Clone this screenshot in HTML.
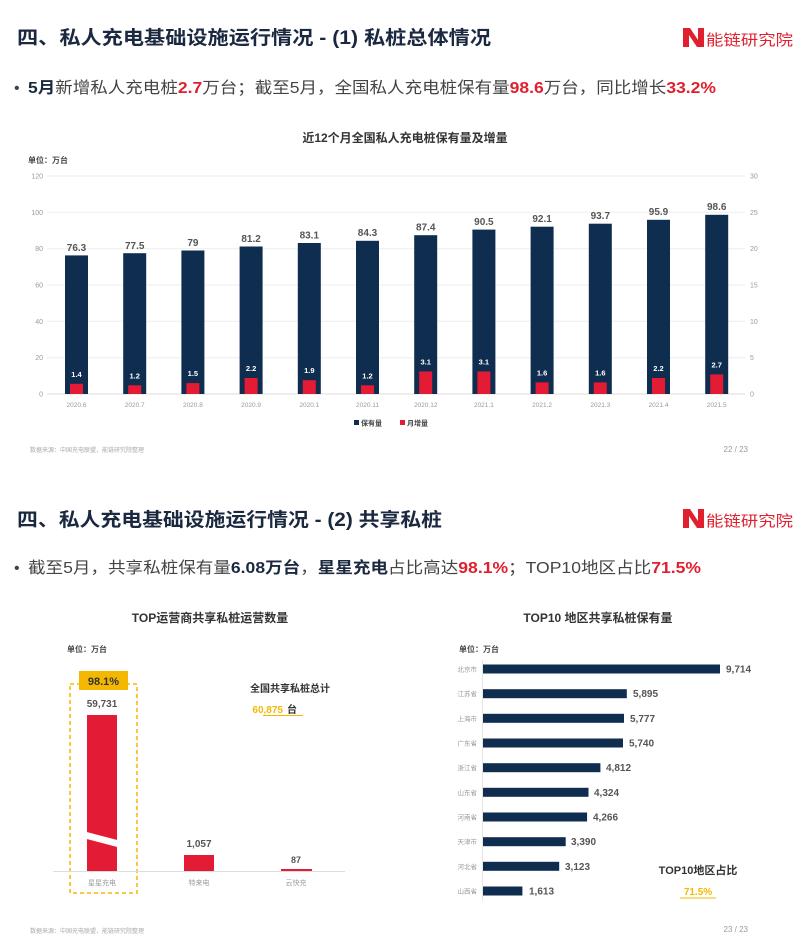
<!DOCTYPE html>
<html><head><meta charset="utf-8"><style>
html,body{margin:0;padding:0;background:#fff}
svg{display:block;font-family:"Liberation Sans","Noto Sans CJK SC",sans-serif}
</style></head><body>
<svg width="810" height="944" viewBox="0 0 810 944" xmlns="http://www.w3.org/2000/svg">
<!-- ===== Section 1 ===== -->
<text x="17" y="44" font-size="19" font-weight="bold" fill="#1b2940" textLength="474" lengthAdjust="spacingAndGlyphs">四、私人充电基础设施运行情况  - (1) 私桩总体情况</text>
<g>
<path d="M683 28 L690 28 L698 40 L698 28 L704 28 L704 47 L697 47 L689 35 L689 47 L683 47 Z" fill="#e0202e"/>
<text x="706" y="45" font-size="15" fill="#e0202e" textLength="87" lengthAdjust="spacingAndGlyphs">能链研究院</text>
</g>
<text x="14" y="93" font-size="16" fill="#444">•</text>
<text x="28" y="93" font-size="16" fill="#444" textLength="688" lengthAdjust="spacingAndGlyphs"><tspan font-weight="bold" fill="#1b2940">5月</tspan>新增私人充电桩<tspan font-weight="bold" fill="#e0202e">2.7</tspan>万台；截至5月，全国私人充电桩保有量<tspan font-weight="bold" fill="#e0202e">98.6</tspan>万台，同比增长<tspan font-weight="bold" fill="#e0202e">33.2%</tspan></text>

<text x="405" y="142" font-size="12" font-weight="bold" fill="#333" text-anchor="middle">近12个月全国私人充电桩保有量及增量</text>
<text x="28" y="163" font-size="8" font-weight="bold" fill="#444">单位：万台</text>
<!-- grid -->
<g stroke="#eeeeee" stroke-width="1">
<line x1="47" y1="176" x2="745" y2="176"/>
<line x1="47" y1="212.3" x2="745" y2="212.3"/>
<line x1="47" y1="248.7" x2="745" y2="248.7"/>
<line x1="47" y1="285" x2="745" y2="285"/>
<line x1="47" y1="321.3" x2="745" y2="321.3"/>
<line x1="47" y1="357.7" x2="745" y2="357.7"/>
</g>
<line x1="47" y1="394" x2="745" y2="394" stroke="#dddddd"/>
<g font-size="7" fill="#999" text-anchor="end">
<text x="43" y="178.5">120</text><text x="43" y="215">100</text><text x="43" y="251">80</text><text x="43" y="287.5">60</text><text x="43" y="324">40</text><text x="43" y="360">20</text><text x="43" y="396.5">0</text>
</g>
<g font-size="7" fill="#999">
<text x="750" y="178.5">30</text><text x="750" y="215">25</text><text x="750" y="251">20</text><text x="750" y="287.5">15</text><text x="750" y="324">10</text><text x="750" y="360">5</text><text x="750" y="396.5">0</text>
</g>
<!-- navy bars -->
<g fill="#0f2d4f">
<rect x="65" y="255.4" width="23" height="138.6"/>
<rect x="123.2" y="253.2" width="23" height="140.8"/>
<rect x="181.4" y="250.5" width="23" height="143.5"/>
<rect x="239.6" y="246.5" width="23" height="147.5"/>
<rect x="297.8" y="243" width="23" height="151"/>
<rect x="356" y="240.8" width="23" height="153.2"/>
<rect x="414.2" y="235.2" width="23" height="158.8"/>
<rect x="472.4" y="229.6" width="23" height="164.4"/>
<rect x="530.6" y="226.7" width="23" height="167.3"/>
<rect x="588.8" y="223.7" width="23" height="170.3"/>
<rect x="647" y="219.8" width="23" height="174.2"/>
<rect x="705.2" y="214.8" width="23" height="179.2"/>
</g>
<!-- red bars -->
<g fill="#e31b34">
<rect x="70" y="383.8" width="13" height="10.2"/>
<rect x="128.2" y="385.3" width="13" height="8.7"/>
<rect x="186.4" y="383.1" width="13" height="10.9"/>
<rect x="244.6" y="378" width="13" height="16"/>
<rect x="302.8" y="380.2" width="13" height="13.8"/>
<rect x="361" y="385.3" width="13" height="8.7"/>
<rect x="419.2" y="371.5" width="13" height="22.5"/>
<rect x="477.4" y="371.5" width="13" height="22.5"/>
<rect x="535.6" y="382.4" width="13" height="11.6"/>
<rect x="593.8" y="382.4" width="13" height="11.6"/>
<rect x="652" y="378" width="13" height="16"/>
<rect x="710.2" y="374.4" width="13" height="19.6"/>
</g>
<g font-size="10" font-weight="bold" fill="#555" text-anchor="middle">
<text x="76.5" y="251">76.3</text><text x="134.7" y="249">77.5</text><text x="192.9" y="246">79</text><text x="251.1" y="242">81.2</text>
<text x="309.3" y="238.5">83.1</text><text x="367.5" y="236">84.3</text><text x="425.7" y="230.5">87.4</text><text x="483.9" y="225">90.5</text>
<text x="542.1" y="222">92.1</text><text x="600.3" y="219">93.7</text><text x="658.5" y="215">95.9</text><text x="716.7" y="210">98.6</text>
</g>
<g font-size="7.5" font-weight="bold" fill="#fff" text-anchor="middle">
<text x="76.5" y="377">1.4</text><text x="134.7" y="378.5">1.2</text><text x="192.9" y="376">1.5</text><text x="251.1" y="371">2.2</text>
<text x="309.3" y="373">1.9</text><text x="367.5" y="378.5">1.2</text><text x="425.7" y="364.5">3.1</text><text x="483.9" y="364.5">3.1</text>
<text x="542.1" y="375.5">1.6</text><text x="600.3" y="375.5">1.6</text><text x="658.5" y="371">2.2</text><text x="716.7" y="367.5">2.7</text>
</g>
<g font-size="6.5" fill="#999" text-anchor="middle">
<text x="76.5" y="407">2020.6</text><text x="134.7" y="407">2020.7</text><text x="192.9" y="407">2020.8</text><text x="251.1" y="407">2020.9</text>
<text x="309.3" y="407">2020.1</text><text x="367.5" y="407">2020.11</text><text x="425.7" y="407">2020.12</text><text x="483.9" y="407">2021.1</text>
<text x="542.1" y="407">2021.2</text><text x="600.3" y="407">2021.3</text><text x="658.5" y="407">2021.4</text><text x="716.7" y="407">2021.5</text>
</g>
<rect x="354" y="420" width="5" height="5" fill="#0f2d4f"/>
<text x="361" y="425.5" font-size="7" font-weight="bold" fill="#444">保有量</text>
<rect x="400" y="420" width="5" height="5" fill="#e31b34"/>
<text x="407" y="425.5" font-size="7" font-weight="bold" fill="#444">月增量</text>
<text x="30" y="452" font-size="6" fill="#aaa">数据来源：中国充电联盟，能链研究院整理</text>
<text x="748" y="452" font-size="8" fill="#999" text-anchor="end">22 / 23</text>

<!-- ===== Section 2 ===== -->
<text x="17" y="526" font-size="19" font-weight="bold" fill="#1b2940" textLength="425" lengthAdjust="spacingAndGlyphs">四、私人充电基础设施运行情况 - (2) 共享私桩</text>
<g>
<path d="M683 509 L690 509 L698 521 L698 509 L704 509 L704 528 L697 528 L689 516 L689 528 L683 528 Z" fill="#e0202e"/>
<text x="706" y="526" font-size="15" fill="#e0202e" textLength="87" lengthAdjust="spacingAndGlyphs">能链研究院</text>
</g>
<text x="14" y="573" font-size="16" fill="#444">•</text>
<text x="28" y="573" font-size="16" fill="#444" textLength="673" lengthAdjust="spacingAndGlyphs">截至5月，共享私桩保有量<tspan font-weight="bold" fill="#1b2940">6.08万台</tspan>，<tspan font-weight="bold" fill="#1b2940">星星充电</tspan>占比高达<tspan font-weight="bold" fill="#e0202e">98.1%</tspan>；TOP10地区占比<tspan font-weight="bold" fill="#e0202e">71.5%</tspan></text>

<!-- left chart -->
<text x="210" y="622" font-size="12" font-weight="bold" fill="#333" text-anchor="middle">TOP运营商共享私桩运营数量</text>
<text x="67" y="652" font-size="8" font-weight="bold" fill="#444">单位：万台</text>
<rect x="70" y="684" width="67" height="209" fill="none" stroke="#f5b800" stroke-width="1.5" stroke-dasharray="4,3"/>
<rect x="79" y="671" width="49" height="19" fill="#f5b800"/>
<text x="103.5" y="685" font-size="11" font-weight="bold" fill="#333" text-anchor="middle">98.1%</text>
<text x="102" y="707" font-size="10" font-weight="bold" fill="#555" text-anchor="middle">59,731</text>
<rect x="87" y="715" width="30" height="156" fill="#e31b34"/>
<polygon points="83,831 121,841 121,848 83,838" fill="#fff"/>
<rect x="184" y="855" width="30" height="16" fill="#e31b34"/>
<text x="199" y="847" font-size="10" font-weight="bold" fill="#555" text-anchor="middle">1,057</text>
<rect x="281" y="869" width="31" height="2" fill="#e31b34"/>
<text x="296" y="863" font-size="9" font-weight="bold" fill="#555" text-anchor="middle">87</text>
<line x1="53" y1="871.5" x2="345" y2="871.5" stroke="#ddd"/>
<g font-size="7" fill="#999" text-anchor="middle">
<text x="102" y="885">星星充电</text><text x="199" y="885">特来电</text><text x="296" y="885">云快充</text>
</g>
<text x="290" y="692" font-size="10" font-weight="bold" fill="#333" text-anchor="middle">全国共享私桩总计</text>
<text x="283" y="713" font-size="10" font-weight="bold" fill="#f5b800" text-anchor="end">60,875</text>
<line x1="263" y1="715.5" x2="303" y2="715.5" stroke="#f5b800"/>
<text x="287" y="713" font-size="10" font-weight="bold" fill="#333">台</text>
<text x="30" y="933" font-size="6" fill="#aaa">数据来源：中国充电联盟，能链研究院整理</text>

<!-- right chart -->
<text x="598" y="622" font-size="12" font-weight="bold" fill="#333" text-anchor="middle">TOP10 地区共享私桩保有量</text>
<text x="459" y="652" font-size="8" font-weight="bold" fill="#444">单位：万台</text>
<line x1="482.5" y1="660" x2="482.5" y2="901" stroke="#e5e5e5"/>
<g fill="#0f2d4f">
<rect x="483" y="664.5" width="237" height="9"/>
<rect x="483" y="689.2" width="143.8" height="9"/>
<rect x="483" y="713.8" width="141" height="9"/>
<rect x="483" y="738.5" width="140" height="9"/>
<rect x="483" y="763.2" width="117.4" height="9"/>
<rect x="483" y="787.8" width="105.5" height="9"/>
<rect x="483" y="812.5" width="104.1" height="9"/>
<rect x="483" y="837.2" width="82.7" height="9"/>
<rect x="483" y="861.8" width="76.2" height="9"/>
<rect x="483" y="886.5" width="39.4" height="9"/>
</g>
<g font-size="6.5" fill="#999" text-anchor="end">
<text x="477" y="671.5">北京市</text><text x="477" y="696.2">江苏省</text><text x="477" y="720.8">上海市</text><text x="477" y="745.5">广东省</text><text x="477" y="770.2">浙江省</text>
<text x="477" y="794.8">山东省</text><text x="477" y="819.5">河南省</text><text x="477" y="844.2">天津市</text><text x="477" y="868.8">河北省</text><text x="477" y="893.5">山西省</text>
</g>
<g font-size="10" font-weight="bold" fill="#555">
<text x="726" y="672.5">9,714</text><text x="633" y="697.2">5,895</text><text x="630" y="721.8">5,777</text><text x="629" y="746.5">5,740</text><text x="606" y="771.2">4,812</text>
<text x="594" y="795.8">4,324</text><text x="593" y="820.5">4,266</text><text x="571" y="845.2">3,390</text><text x="565" y="869.8">3,123</text><text x="529" y="894.5">1,613</text>
</g>
<text x="698" y="874" font-size="11" font-weight="bold" fill="#333" text-anchor="middle">TOP10地区占比</text>
<text x="698" y="895" font-size="10" font-weight="bold" fill="#f5b800" text-anchor="middle">71.5%</text>
<line x1="680" y1="898" x2="716" y2="898" stroke="#f5b800"/>
<text x="748" y="932" font-size="8" fill="#999" text-anchor="end">23 / 23</text>
</svg>
</body></html>
